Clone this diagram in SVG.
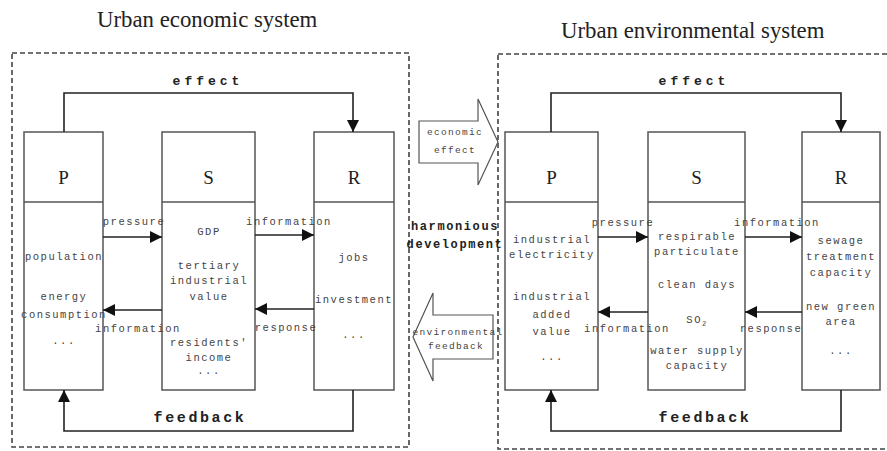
<svg xmlns="http://www.w3.org/2000/svg" width="887" height="451" viewBox="0 0 887 451">
<style>
.title{font-family:"Liberation Serif",serif;font-size:22.8px;fill:#222}
.lbl{font-family:"Liberation Serif",serif;font-size:19px;fill:#222;text-anchor:middle}
.t{font-family:"Liberation Mono",monospace;font-size:10.5px;fill:#444;text-anchor:middle;letter-spacing:1.5px}
.big{font-family:"Liberation Mono",monospace;font-weight:bold;fill:#222;text-anchor:middle}
.dash{fill:none;stroke:#444;stroke-width:1.6;stroke-dasharray:5,3}
.box{fill:#fff;stroke:#555;stroke-width:1.5}
.ln{fill:none;stroke:#222;stroke-width:1.6}
.fat{fill:#fff;stroke:#555;stroke-width:1.2}
</style>
<defs>
<marker id="ah" viewBox="0 0 10 10" refX="10" refY="5" markerWidth="12" markerHeight="12" markerUnits="userSpaceOnUse" orient="auto">
<path d="M0,0 L10,5 L0,10 Z" fill="#111"/>
</marker>
</defs>
<text class="title" x="97" y="27">Urban economic system</text>
<text class="title" x="561" y="38">Urban environmental system</text>
<g id="econ-frame"><rect class="dash" x="12" y="53" width="397" height="394"/></g>
<g id="env-frame"><rect class="dash" x="498" y="54" width="400" height="395"/></g>

<g id="econ-P">
<rect class="box" x="24" y="132" width="79" height="258"/>
<line class="box" x1="24" y1="202" x2="103" y2="202"/>
<text class="lbl" x="63.5" y="184">P</text>
<text class="t" x="64" y="260">population</text>
<text class="t" x="64" y="300">energy</text>
<text class="t" x="64" y="318">consumption</text>
<text class="t" x="64" y="344">...</text>
</g>
<g id="econ-S">
<rect class="box" x="162" y="132" width="93" height="258"/>
<line class="box" x1="162" y1="202" x2="255" y2="202"/>
<text class="lbl" x="208.5" y="184">S</text>
<text class="t" x="209" y="235">GDP</text>
<text class="t" x="209" y="269">tertiary</text>
<text class="t" x="209" y="284">industrial</text>
<text class="t" x="209" y="300">value</text>
<text class="t" x="209" y="346">residents'</text>
<text class="t" x="209" y="361">income</text>
<text class="t" x="209" y="374">...</text>
</g>
<g id="econ-R">
<rect class="box" x="314" y="132" width="80" height="258"/>
<line class="box" x1="314" y1="202" x2="394" y2="202"/>
<text class="lbl" x="354" y="184">R</text>
<text class="t" x="354" y="261">jobs</text>
<text class="t" x="354" y="303">investment</text>
<text class="t" x="354" y="338">...</text>
</g>

<g id="env-P">
<rect class="box" x="505" y="132" width="93" height="258"/>
<line class="box" x1="505" y1="202" x2="598" y2="202"/>
<text class="lbl" x="551.5" y="184">P</text>
<text class="t" x="552" y="243">industrial</text>
<text class="t" x="552" y="258">electricity</text>
<text class="t" x="552" y="300">industrial</text>
<text class="t" x="552" y="318">added</text>
<text class="t" x="552" y="335">value</text>
<text class="t" x="552" y="360">...</text>
</g>
<g id="env-S">
<rect class="box" x="648" y="132" width="97" height="258"/>
<line class="box" x1="648" y1="202" x2="745" y2="202"/>
<text class="lbl" x="696.5" y="184">S</text>
<text class="t" x="697" y="240">respirable</text>
<text class="t" x="697" y="255">particulate</text>
<text class="t" x="697" y="288">clean days</text>
<text class="t" x="697" y="323">SO<tspan font-size="7" dy="3">2</tspan></text>
<text class="t" x="697" y="354">water supply</text>
<text class="t" x="697" y="369">capacity</text>
</g>
<g id="env-R">
<rect class="box" x="802" y="132" width="78" height="258"/>
<line class="box" x1="802" y1="202" x2="880" y2="202"/>
<text class="lbl" x="841" y="184">R</text>
<text class="t" x="841" y="244">sewage</text>
<text class="t" x="841" y="260">treatment</text>
<text class="t" x="841" y="276">capacity</text>
<text class="t" x="841" y="310">new green</text>
<text class="t" x="841" y="325">area</text>
<text class="t" x="841" y="354">...</text>
</g>

<g id="middle">
<path class="fat" d="M419,121 L478,121 L478,99 L498,142 L478,185 L478,163 L419,163 Z"/>
<text class="t" x="455" y="135" style="font-size:9.5px;letter-spacing:1.3px">economic</text>
<text class="t" x="455" y="153" style="font-size:9.5px;letter-spacing:1.3px">effect</text>
<text class="big" x="455" y="230" style="font-size:12px;letter-spacing:1.6px">harmonious</text>
<text class="big" x="455" y="248" style="font-size:12px;letter-spacing:1.6px">development</text>
<path class="fat" d="M493,315 L433,315 L433,293 L413,337 L433,381 L433,359 L493,359 Z"/>
<text class="t" x="458" y="335" style="font-size:9.5px;letter-spacing:1.3px">environmental</text>
<text class="t" x="456" y="349" style="font-size:9.5px;letter-spacing:1.3px">feedback</text>
</g>

<g id="connectors">
<polyline class="ln" points="64,132 64,93 353,93 353,132" marker-end="url(#ah)"/>
<polyline class="ln" points="353,390 353,431 64,431 64,390" marker-end="url(#ah)"/>
<line class="ln" x1="103" y1="237" x2="162" y2="237" marker-end="url(#ah)"/>
<line class="ln" x1="255" y1="235" x2="314" y2="235" marker-end="url(#ah)"/>
<line class="ln" x1="162" y1="310" x2="103" y2="310" marker-end="url(#ah)"/>
<line class="ln" x1="314" y1="309" x2="255" y2="309" marker-end="url(#ah)"/>
<polyline class="ln" points="551,132 551,93 841,93 841,132" marker-end="url(#ah)"/>
<polyline class="ln" points="841,390 841,431 551,431 551,390" marker-end="url(#ah)"/>
<line class="ln" x1="598" y1="237" x2="648" y2="237" marker-end="url(#ah)"/>
<line class="ln" x1="745" y1="237" x2="802" y2="237" marker-end="url(#ah)"/>
<line class="ln" x1="648" y1="312" x2="598" y2="312" marker-end="url(#ah)"/>
<line class="ln" x1="802" y1="312" x2="745" y2="312" marker-end="url(#ah)"/>
</g>
<g id="connector-labels">
<text class="big" x="208" y="85" style="font-size:13px;letter-spacing:4px">effect</text>
<text class="big" x="200" y="422" style="font-size:15px;letter-spacing:2.6px">feedback</text>
<text class="big" x="694" y="85" style="font-size:13px;letter-spacing:4px">effect</text>
<text class="big" x="705" y="422" style="font-size:15px;letter-spacing:2.6px">feedback</text>
<text class="t" x="134" y="225">pressure</text>
<text class="t" x="289" y="225">information</text>
<text class="t" x="138" y="332">information</text>
<text class="t" x="286" y="331">response</text>
<text class="t" x="623" y="226">pressure</text>
<text class="t" x="777" y="226">information</text>
<text class="t" x="627" y="332">information</text>
<text class="t" x="771" y="332">response</text>
</g>
</svg>
